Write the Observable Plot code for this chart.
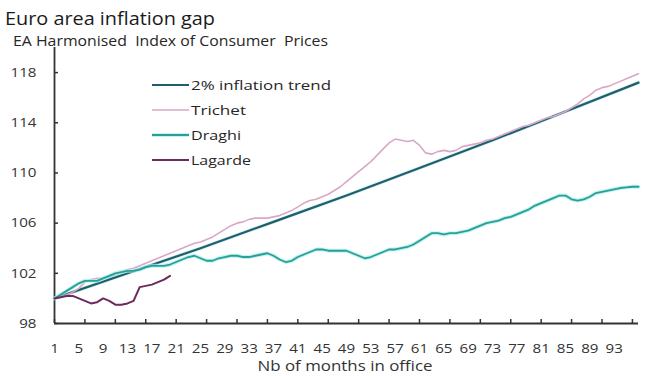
<!DOCTYPE html>
<html>
<head>
<meta charset="utf-8">
<script src="https://cdn.jsdelivr.net/npm/d3@7"></script>
<script src="https://cdn.jsdelivr.net/npm/@observablehq/plot@0.6"></script>
<style>
  html, body { margin: 0; padding: 0; background: #fff; }
  #wrap { position: relative; width: 655px; height: 376px; overflow: hidden; font-family: "Open Sans", "Liberation Sans", sans-serif; }
  #chart { position: absolute; left: 0; top: 0; }
  #overlay { position: absolute; left: 0; top: 0; pointer-events: none; }
</style>
</head>
<body>
<div id="wrap">
  <div id="chart"></div>
  <svg id="overlay" width="655" height="376"></svg>
</div>
<script>
// ---- Data ----
const trendMonths = [1, 13, 25, 37, 49, 61, 73, 85, 97];
const trendValues = [100.0, 102.0, 104.0, 106.1, 108.2, 110.4, 112.6, 114.9, 117.2];

const trichetValues = [
  100.0,100.1,100.3,100.5,100.8,101.3,101.5,101.6,101.6,101.7,
  101.9,102.1,102.3,102.4,102.6,102.8,103.0,103.2,103.4,103.6,
  103.8,104.0,104.2,104.4,104.5,104.7,104.9,105.2,105.5,105.8,
  106.0,106.1,106.3,106.4,106.4,106.4,106.5,106.6,106.8,107.0,
  107.3,107.6,107.8,107.9,108.1,108.3,108.6,108.9,109.3,109.7,
  110.1,110.5,110.9,111.4,111.9,112.4,112.7,112.6,112.5,112.6,
  112.2,111.6,111.5,111.7,111.8,111.7,111.8,112.1,112.2,112.3,
  112.4,112.6,112.7,112.9,113.1,113.3,113.5,113.7,113.8,114.0,
  114.2,114.4,114.5,114.7,114.9,115.2,115.5,115.9,116.2,116.6,
  116.8,116.9,117.1,117.3,117.5,117.7,117.9
];

const draghiValues = [
  100.0,100.3,100.6,100.9,101.2,101.4,101.4,101.4,101.6,101.8,
  102.0,102.1,102.2,102.2,102.3,102.5,102.6,102.6,102.6,102.7,
  102.9,103.1,103.3,103.4,103.2,103.0,103.0,103.2,103.3,103.4,
  103.4,103.3,103.3,103.4,103.5,103.6,103.4,103.1,102.9,103.0,
  103.3,103.5,103.7,103.9,103.9,103.8,103.8,103.8,103.8,103.6,
  103.4,103.2,103.3,103.5,103.7,103.9,103.9,104.0,104.1,104.3,
  104.6,104.9,105.2,105.2,105.1,105.2,105.2,105.3,105.4,105.6,
  105.8,106.0,106.1,106.2,106.4,106.5,106.7,106.9,107.1,107.4,
  107.6,107.8,108.0,108.2,108.2,107.9,107.8,107.9,108.1,108.4,
  108.5,108.6,108.7,108.8,108.85,108.9,108.9
];

const lagardeValues = [
  100.0,100.1,100.2,100.2,100.0,99.8,99.6,99.7,100.0,99.8,
  99.5,99.5,99.6,99.8,100.9,101.0,101.1,101.3,101.5,101.8
];

const yTicks = [98, 102, 106, 110, 114, 118];
const xLabelTicks = [1,5,9,13,17,21,25,29,33,37,41,45,49,53,57,61,65,69,73,77,81,85,89,93];
const xTickMarks = [1,6,11,16,21,26,31,36,41,46,51,56,61,66,71,76,81,86,91,96];

const seriesNames = ["2% inflation trend", "Trichet", "Draghi", "Lagarde"];
const seriesColors = ["#1f5f6b", "#d9a8c8", "#2a9e97", "#6b2a5c"];

const titleText = "Euro area inflation gap";
const subtitleText = "EA Harmonised  Index of Consumer  Prices";
const xAxisTitle = "Nb of months in office";

// ---- Tables built from the arrays ----
const trend = trendMonths.map((m, i) => ({month: m, value: trendValues[i]}));
const toRows = arr => arr.map((v, i) => ({month: i + 1, value: v}));
const trichet = toRows(trichetValues);
const draghi = toRows(draghiValues);
const lagarde = toRows(lagardeValues);

const textColor = "#333";
const axisColor = "#333";

const chart = Plot.plot({
  width: 655,
  height: 376,
  marginLeft: 54,
  marginRight: 17,
  marginTop: 47,
  marginBottom: 53,
  style: { fontFamily: '"Open Sans", "Liberation Sans", sans-serif', fontSize: "13px", color: textColor, background: "transparent" },
  x: { domain: [1, 97], label: null },
  y: { domain: [98, 120], label: null },
  marks: [
    Plot.axisY({ ticks: yTicks, tickSize: 0, tickPadding: 18, label: null, fill: textColor, fontSize: 13.5 }),
    Plot.axisY({ ticks: yTicks, tickSize: 4, dx: 4, tickFormat: () => "", label: null, stroke: axisColor, strokeWidth: 1.5 }),
    Plot.axisX({ ticks: xLabelTicks, tickSize: 0, tickPadding: 20, label: null, fill: textColor, fontSize: 13.5 }),
    Plot.axisX({ ticks: xTickMarks, tickSize: 4, dy: -4, tickFormat: () => "", label: null, stroke: axisColor, strokeWidth: 1.5 }),
    Plot.ruleX([1], { stroke: axisColor, strokeWidth: 1.8 }),
    Plot.ruleY([98], { stroke: axisColor, strokeWidth: 1.8 }),
    Plot.line(trend, { x: "month", y: "value", stroke: "#bfe8ee", strokeWidth: 3.6, strokeOpacity: 0.7 }),
    Plot.line(trend, { x: "month", y: "value", stroke: seriesColors[0], strokeWidth: 2.2 }),
    Plot.line(trichet, { x: "month", y: "value", stroke: seriesColors[1], strokeWidth: 1.6, strokeLinejoin: "round" }),
    Plot.line(draghi, { x: "month", y: "value", stroke: "#a6efea", strokeWidth: 4, strokeOpacity: 0.7, strokeLinejoin: "round" }),
    Plot.line(draghi, { x: "month", y: "value", stroke: seriesColors[2], strokeWidth: 1.8, strokeLinejoin: "round" }),
    Plot.line(lagarde, { x: "month", y: "value", stroke: seriesColors[3], strokeWidth: 2, strokeLinejoin: "round" })
  ]
});
document.getElementById("chart").appendChild(chart);

// widen tick labels slightly (the reference text is horizontally wide)
chart.querySelectorAll('g[aria-label="y-axis tick label"] text, g[aria-label="x-axis tick label"] text').forEach(t => {
  const len = t.getComputedTextLength();
  if (len > 0) {
    t.setAttribute("textLength", (len * 1.12).toFixed(1));
    t.setAttribute("lengthAdjust", "spacingAndGlyphs");
  }
});

// ---- Overlay: title, subtitle, legend, axis title ----
const ov = d3.select("#overlay");
const ff = '"Open Sans", "Liberation Sans", sans-serif';
ov.append("text").attr("x", 5).attr("y", 25).attr("font-family", ff).attr("font-size", 17.5)
  .attr("fill", "#1a1a1a").attr("textLength", 210).attr("lengthAdjust", "spacingAndGlyphs").text(titleText);
ov.append("text").attr("x", 13).attr("y", 46).attr("font-family", ff).attr("font-size", 14)
  .attr("fill", "#262626").style("white-space", "pre")
  .attr("textLength", 315).attr("lengthAdjust", "spacingAndGlyphs").text(subtitleText);
ov.append("text").attr("x", 345).attr("y", 371).attr("text-anchor", "middle").attr("font-family", ff)
  .attr("font-size", 14).attr("fill", textColor).attr("textLength", 175).attr("lengthAdjust", "spacingAndGlyphs").text(xAxisTitle);

const legendY = [85, 110, 135, 160];
const legendW = [140, 55, 50, 60];
seriesNames.forEach((name, i) => {
  const y = legendY[i];
  if (i === 2) {
    ov.append("line").attr("x1", 152).attr("x2", 189).attr("y1", y).attr("y2", y)
      .attr("stroke", "#a6efea").attr("stroke-width", 4).attr("stroke-opacity", 0.7);
  }
  ov.append("line").attr("x1", 152).attr("x2", 189).attr("y1", y).attr("y2", y)
    .attr("stroke", seriesColors[i]).attr("stroke-width", i === 1 ? 1.6 : 2);
  ov.append("text").attr("x", 191).attr("y", y + 5).attr("font-family", ff).attr("font-size", 13.5)
    .attr("fill", "#262626").attr("textLength", legendW[i]).attr("lengthAdjust", "spacingAndGlyphs").text(name);
});
</script>
</body>
</html>
